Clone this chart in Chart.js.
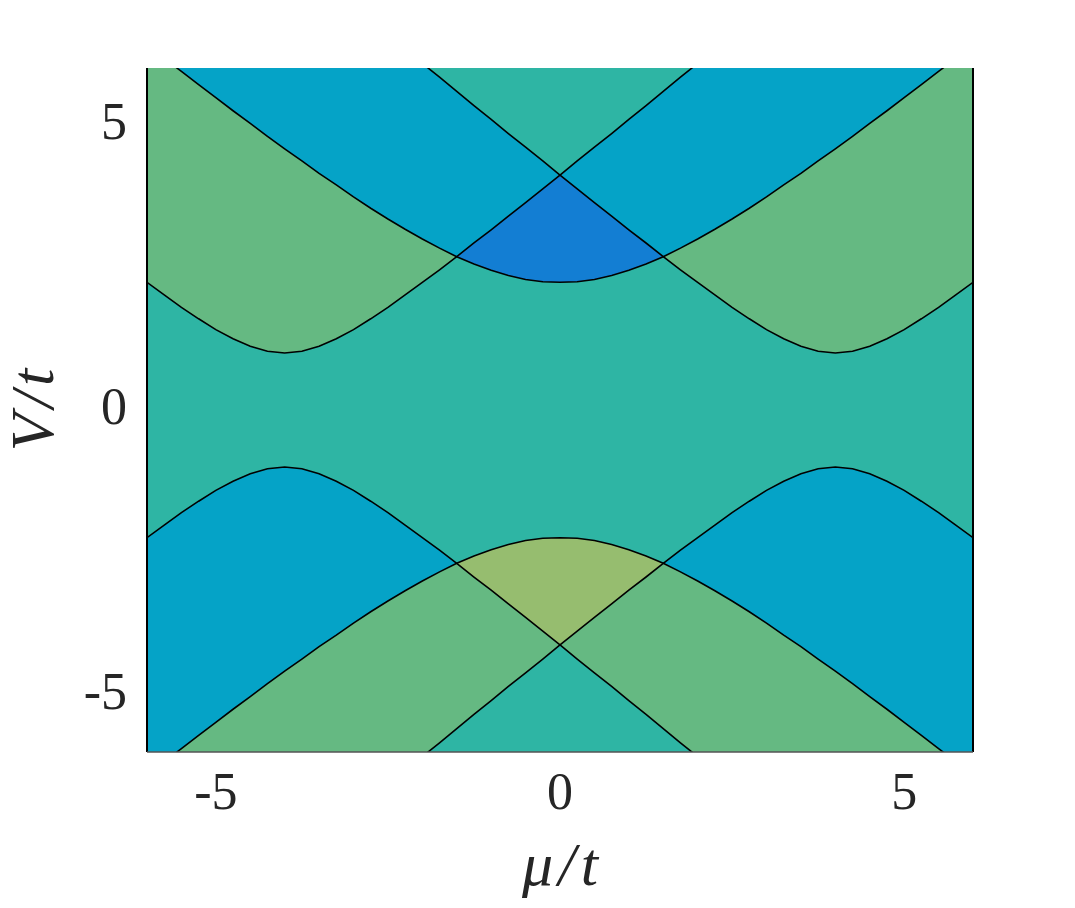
<!DOCTYPE html>
<html>
<head>
<meta charset="utf-8">
<title>V/t vs mu/t</title>
<script src="https://cdn.jsdelivr.net/npm/chart.js"></script>
<style>
  body { margin: 0; background: #fff; }
  canvas { display: block; }
</style>
</head>
<body>
<canvas id="graph" width="1075" height="908"></canvas>
<script>
let mu = [-6, -5.75, -5.5, -5.25, -5, -4.75, -4.5, -4.25, -4, -3.75, -3.5, -3.25, -3, -2.75, -2.5, -2.25, -2, -1.75, -1.5, -1.25, -1, -0.75, -0.5, -0.25,
    0, 0.25, 0.5, 0.75, 1, 1.25, 1.5, 1.75, 2, 2.25, 2.5, 2.75, 3, 3.25, 3.5, 3.75, 4, 4.25, 4.5, 4.75, 5, 5.25, 5.5, 5.75, 6]

let upperC = [6.40, 6.17, 5.94, 5.71, 5.48, 5.25, 5.03, 4.80, 4.58, 4.37, 4.15, 3.95, 3.74, 3.54, 3.35, 3.17, 3.00, 2.84, 2.69, 2.56, 2.45, 2.36, 2.29, 2.25,
    2.24, 2.25, 2.29, 2.36, 2.45, 2.56, 2.69, 2.84, 3.00, 3.17, 3.35, 3.54, 3.74, 3.95, 4.15, 4.37, 4.58, 4.80, 5.03, 5.25, 5.48, 5.71, 5.94, 6.17, 6.40]
let upperL = [2.24, 2.02, 1.80, 1.60, 1.41, 1.25, 1.12, 1.03, 1.00, 1.03, 1.12, 1.25, 1.41, 1.60, 1.80, 2.02, 2.24, 2.46, 2.69, 2.93, 3.16, 3.40, 3.64, 3.88,
    4.12, 4.37, 4.61, 4.85, 5.10, 5.34, 5.59, 5.84, 6.08, null, null, null, null, null, null, null, null, null, null, null, null, null, null, null, null]
let upperR = [null, null, null, null, null, null, null, null, null, null, null, null, null, null, null, null, 6.08, 5.84, 5.59, 5.34, 5.10, 4.85, 4.61, 4.37,
    4.12, 3.88, 3.64, 3.40, 3.16, 2.93, 2.69, 2.46, 2.24, 2.02, 1.80, 1.60, 1.41, 1.25, 1.12, 1.03, 1.00, 1.03, 1.12, 1.25, 1.41, 1.60, 1.80, 2.02, 2.24]

let lowerC = [-6.40, -6.17, -5.94, -5.71, -5.48, -5.25, -5.03, -4.80, -4.58, -4.37, -4.15, -3.95, -3.74, -3.54, -3.35, -3.17, -3.00, -2.84, -2.69, -2.56, -2.45, -2.36, -2.29, -2.25,
    -2.24, -2.25, -2.29, -2.36, -2.45, -2.56, -2.69, -2.84, -3.00, -3.17, -3.35, -3.54, -3.74, -3.95, -4.15, -4.37, -4.58, -4.80, -5.03, -5.25, -5.48, -5.71, -5.94, -6.17, -6.40]
let lowerL = [-2.24, -2.02, -1.80, -1.60, -1.41, -1.25, -1.12, -1.03, -1.00, -1.03, -1.12, -1.25, -1.41, -1.60, -1.80, -2.02, -2.24, -2.46, -2.69, -2.93, -3.16, -3.40, -3.64, -3.88,
    -4.12, -4.37, -4.61, -4.85, -5.10, -5.34, -5.59, -5.84, -6.08, null, null, null, null, null, null, null, null, null, null, null, null, null, null, null, null]
let lowerR = [null, null, null, null, null, null, null, null, null, null, null, null, null, null, null, null, -6.08, -5.84, -5.59, -5.34, -5.10, -4.85, -4.61, -4.37,
    -4.12, -3.88, -3.64, -3.40, -3.16, -2.93, -2.69, -2.46, -2.24, -2.02, -1.80, -1.60, -1.41, -1.25, -1.12, -1.03, -1.00, -1.03, -1.12, -1.25, -1.41, -1.60, -1.80, -2.02, -2.24]

let xTicks = [-5, 0, 5]
let yTicks = [-5, 0, 5]

let teal = '#2EB5A4'
let green = '#65B982'
let cyan = '#05A3C7'
let darkBlue = '#137ED3'
let olive = '#96BD6F'

function pts(arr) {
    return arr.map(function(v, i) { return {x: mu[i], y: v} })
}

// k-th curve counted outward from V = 0
function band(sets, k) {
    return mu.map(function(m, i) {
        let vals = sets.map(s => s[i]).filter(v => v !== null)
        vals.sort((a, b) => Math.abs(a) - Math.abs(b))
        return vals[k] === undefined ? null : vals[k]
    })
}

// centre curve only where it is the innermost one
function inner(c, a, b) {
    return c.map(function(v, i) {
        let ra = a[i] === null ? Infinity : Math.abs(a[i])
        let rb = b[i] === null ? Infinity : Math.abs(b[i])
        return Math.abs(v) <= Math.min(ra, rb) ? v : null
    })
}

function area(arr, color, target, order) {
    return {
        data: pts(arr),
        fill: target,
        backgroundColor: color,
        borderColor: 'rgba(0,0,0,0)',
        borderWidth: 0,
        pointRadius: 0,
        order: order
    }
}

function curve(arr) {
    return {
        data: pts(arr),
        fill: false,
        borderColor: '#000',
        borderWidth: 1.6,
        pointRadius: 0,
        order: 0
    }
}

let upper = [upperC, upperL, upperR]
let lower = [lowerC, lowerL, lowerR]

let plotFrame = {
    id: 'plotFrame',
    beforeDatasetsDraw: function(chart) {
        let a = chart.chartArea
        let ctx = chart.ctx
        ctx.save()
        ctx.fillStyle = teal
        ctx.fillRect(a.left, a.top, a.right - a.left, a.bottom - a.top)
        ctx.restore()
    },
    afterDatasetsDraw: function(chart) {
        let a = chart.chartArea
        let ctx = chart.ctx
        ctx.save()
        ctx.strokeStyle = '#000'
        ctx.lineWidth = 2
        ctx.beginPath()
        ctx.moveTo(a.left, a.top)
        ctx.lineTo(a.left, a.bottom)
        ctx.moveTo(a.right, a.top)
        ctx.lineTo(a.right, a.bottom)
        ctx.stroke()
        ctx.strokeStyle = '#555'
        ctx.lineWidth = 1.5
        ctx.beginPath()
        ctx.moveTo(a.left, a.bottom)
        ctx.lineTo(a.right, a.bottom)
        ctx.stroke()
        ctx.restore()
    }
}

let tickFont = {family: 'Liberation Serif', size: 52}
let titleFont = {family: 'Liberation Serif', size: 62, style: 'italic'}

let graph = document.getElementById('graph').getContext('2d')

new Chart(graph, {
    type: 'line',
    data: {
        datasets: [
            curve(upperC), curve(upperL), curve(upperR),
            curve(lowerC), curve(lowerL), curve(lowerR),
            area(band(upper, 0), green, 'end', 10),
            area(inner(upperC, upperL, upperR), darkBlue, 'end', 9),
            area(band(upper, 1), cyan, 'end', 8),
            area(band(upper, 2), teal, 'end', 7),
            area(band(lower, 0), cyan, 'start', 10),
            area(inner(lowerC, lowerL, lowerR), olive, 'start', 9),
            area(band(lower, 1), green, 'start', 8),
            area(band(lower, 2), teal, 'start', 7)
        ]
    },
    options: {
        responsive: false,
        animation: false,
        layout: {padding: {top: 68, right: 102, left: 0, bottom: 0}},
        plugins: {
            legend: {display: false},
            tooltip: {enabled: false}
        },
        elements: {line: {tension: 0}},
        scales: {
            x: {
                type: 'linear',
                min: -6,
                max: 6,
                afterBuildTicks: function(s) { s.ticks = xTicks.map(v => ({value: v})) },
                afterFit: function(s) { s.height = 156 },
                grid: {display: false, drawTicks: false},
                border: {display: false},
                ticks: {font: tickFont, color: '#262626', padding: 12, maxRotation: 0, autoSkip: false},
                title: {display: true, text: 'μ\u200a/\u200at', font: titleFont, color: '#262626', padding: {top: 0, bottom: 2}}
            },
            y: {
                type: 'linear',
                min: -6,
                max: 6,
                afterBuildTicks: function(s) { s.ticks = yTicks.map(v => ({value: v})) },
                afterFit: function(s) { s.width = 147 },
                grid: {display: false, drawTicks: false},
                border: {display: false},
                ticks: {font: tickFont, color: '#262626', padding: 20, autoSkip: false},
                title: {display: true, text: 'V\u200a/\u200at', font: titleFont, color: '#262626', padding: {top: 0, bottom: 0}}
            }
        }
    },
    plugins: [plotFrame]
})
</script>
</body>
</html>
